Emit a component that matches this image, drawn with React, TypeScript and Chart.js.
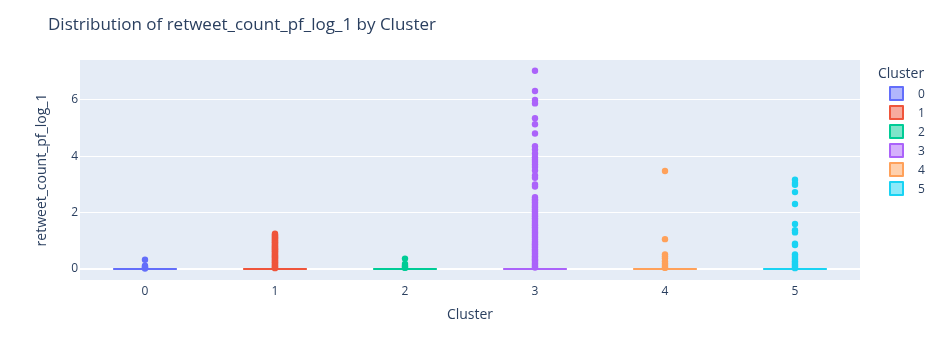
import React, { useEffect, useRef } from "react";
import { Chart, registerables } from "chart.js";

Chart.register(...registerables);

const clusters = ["0", "1", "2", "3", "4", "5"];
const colors = ["#636efa", "#EF553B", "#00cc96", "#ab63fa", "#FFA15A", "#19d3f3"];
const fills = [
  "rgba(99,110,250,0.5)",
  "rgba(239,85,59,0.5)",
  "rgba(0,204,150,0.5)",
  "rgba(171,99,250,0.5)",
  "rgba(255,161,90,0.5)",
  "rgba(25,211,243,0.5)",
];

const boxQ1 = [0, 0, 0, 0, 0, 0];
const boxMedian = [0, 0, 0, 0, 0, 0];
const boxQ3 = [0, 0, 0, 0, 0, 0];

const outliers0 = [0.33, 0.12, 0.08, 0.05, 0.02];
const outliers1 = [
  1.25, 1.22, 1.19, 1.15, 1.12, 1.1, 1.07, 1.04, 1.01, 0.98, 0.95, 0.92, 0.89, 0.86,
  0.83, 0.8, 0.77, 0.74, 0.71, 0.69, 0.66, 0.63, 0.6, 0.57, 0.54, 0.51, 0.48, 0.45,
  0.42, 0.39, 0.36, 0.33, 0.3, 0.27, 0.24, 0.21, 0.18, 0.15, 0.12, 0.09, 0.06, 0.03,
];
const outliers2 = [0.37, 0.18, 0.12, 0.08, 0.04];
const outliers3 = [
  7.04, 6.32, 6.0, 5.88, 5.35, 5.14, 4.81, 4.36, 4.24, 4.1, 3.97, 3.88, 3.8, 3.71,
  3.62, 3.5, 3.32, 3.24, 3.0, 2.93, 2.55, 2.48, 2.43, 2.37, 2.31, 2.25, 2.19, 2.12,
  2.05, 2.0, 1.93, 1.87, 1.8, 1.74, 1.68, 1.61, 1.55, 1.48, 1.42, 1.36, 1.3, 1.24,
  1.18, 1.12, 1.05, 0.98, 0.92, 0.88, 0.83, 0.77, 0.7, 0.65, 0.6, 0.55, 0.5, 0.45,
  0.4, 0.35, 0.3, 0.25, 0.2, 0.15, 0.1, 0.05,
];
const outliers4 = [3.48, 1.06, 0.52, 0.45, 0.38, 0.28, 0.2, 0.14, 0.08, 0.04];
const outliers5 = [
  3.17, 3.05, 2.99, 2.73, 2.31, 1.6, 1.38, 1.3, 0.9, 0.85, 0.52, 0.46, 0.4, 0.34,
  0.28, 0.22, 0.17, 0.12, 0.07, 0.03,
];
const outliers = [outliers0, outliers1, outliers2, outliers3, outliers4, outliers5];

const yTicks = [0, 2, 4, 6];
const yMin = -0.39;
const yMax = 7.42;

const BOX_HALF = 0.245;
const FONT = '"Open Sans", "Liberation Sans", sans-serif';
const TEXT = "#2a3f5f";

const bgPlugin = {
  id: "plotBg",
  beforeDraw(chart: any) {
    const { ctx, chartArea } = chart;
    ctx.save();
    ctx.fillStyle = "#E5ECF6";
    ctx.fillRect(chartArea.left, chartArea.top, chartArea.width, chartArea.height);
    ctx.restore();
  },
};

export default function App() {
  const ref = useRef<HTMLCanvasElement | null>(null);

  useEffect(() => {
    if (!ref.current) return;
    const datasets: any[] = [];
    clusters.forEach((c, i) => {
      datasets.push({
        type: "scatter",
        label: c + " points",
        data: outliers[i].map((v) => ({ x: i, y: v })),
        backgroundColor: colors[i],
        borderWidth: 0,
        pointRadius: 3.2,
        order: 0,
      });
      datasets.push({
        type: "line",
        label: c + " box",
        data: [
          { x: i - BOX_HALF, y: boxQ1[i] },
          { x: i + BOX_HALF, y: boxQ1[i] },
          { x: i + BOX_HALF, y: boxQ3[i] },
          { x: i - BOX_HALF, y: boxQ3[i] },
          { x: i - BOX_HALF, y: boxQ1[i] },
          { x: i - BOX_HALF, y: boxMedian[i] },
          { x: i + BOX_HALF, y: boxMedian[i] },
        ],
        borderColor: colors[i],
        backgroundColor: fills[i],
        borderWidth: 2,
        pointRadius: 0,
        tension: 0,
        fill: false,
        order: 1,
      });
    });

    const chart = new Chart(ref.current, {
      type: "scatter",
      data: { datasets },
      plugins: [bgPlugin],
      options: {
        animation: false,
        responsive: true,
        maintainAspectRatio: false,
        layout: { padding: { top: 60, right: 83, left: 0, bottom: 0 } },
        plugins: {
          legend: { display: false },
          title: { display: false },
          tooltip: { enabled: false },
        },
        scales: {
          x: {
            type: "linear",
            min: -0.5,
            max: 5.5,
            afterFit(scale: any) {
              scale.height = 80;
            },
            afterBuildTicks(scale: any) {
              scale.ticks = clusters.map((_, i) => ({ value: i }));
            },
            grid: { display: false, drawTicks: false },
            border: { display: false },
            ticks: {
              padding: 4,
              color: TEXT,
              font: { family: FONT, size: 12 },
              callback: (v: any) => clusters[Math.round(Number(v))] ?? "",
            },
            title: {
              display: true,
              text: "Cluster",
              color: TEXT,
              font: { family: FONT, size: 14 },
              padding: { top: 0, bottom: 37 },
            },
          },
          y: {
            type: "linear",
            min: yMin,
            max: yMax,
            afterFit(scale: any) {
              scale.width = 80;
            },
            afterBuildTicks(scale: any) {
              scale.ticks = yTicks.map((v) => ({ value: v }));
            },
            grid: {
              color: "#ffffff",
              lineWidth: (ctx: any) => (ctx.tick && ctx.tick.value === 0 ? 2 : 1),
              drawTicks: false,
            },
            border: { display: false },
            ticks: {
              padding: 2,
              color: TEXT,
              font: { family: FONT, size: 12 },
              callback: (v: any) => String(v),
            },
            title: {
              display: true,
              text: "retweet_count_pf_log_1",
              color: TEXT,
              font: { family: FONT, size: 14 },
              padding: { top: 34, bottom: 0 },
            },
          },
        },
      } as any,
    });
    return () => chart.destroy();
  }, []);

  return (
    <div
      style={{
        position: "fixed",
        left: 0,
        top: 0,
        width: 943,
        height: 360,
        background: "#ffffff",
        fontFamily: FONT,
        color: TEXT,
      }}
    >
      <canvas ref={ref} style={{ position: "absolute", left: 0, top: 0 }} />
      <div
        style={{
          position: "absolute",
          left: 48,
          top: 12,
          fontSize: 17,
          whiteSpace: "nowrap",
          lineHeight: "normal",
        }}
      >
        Distribution of retweet_count_pf_log_1 by Cluster
      </div>
      <div
        style={{
          position: "absolute",
          left: 878,
          top: 63,
          fontSize: 14,
          lineHeight: "20px",
          whiteSpace: "nowrap",
        }}
      >
        Cluster
      </div>
      {clusters.map((c, i) => (
        <div
          key={c}
          style={{
            position: "absolute",
            left: 889,
            top: 84 + i * 18.9,
            height: 19,
            display: "flex",
            alignItems: "center",
            whiteSpace: "nowrap",
          }}
        >
          <span
            style={{
              display: "inline-block",
              width: 11,
              height: 11,
              border: `2px solid ${colors[i]}`,
              background: fills[i],
              borderRadius: 1,
            }}
          />
          <span style={{ fontSize: 12, marginLeft: 14 }}>{c}</span>
        </div>
      ))}
    </div>
  );
}
